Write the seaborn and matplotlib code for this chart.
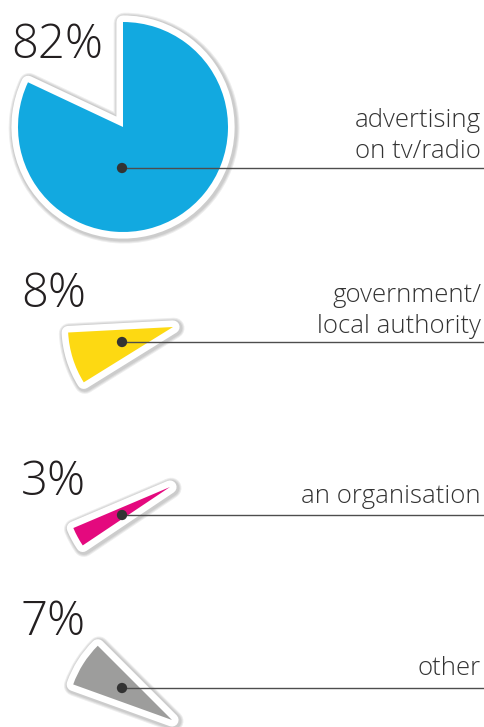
import matplotlib
matplotlib.use("Agg")
import matplotlib.pyplot as plt
import matplotlib.patheffects as pe
import seaborn as sns
import pandas as pd

# data
labels = ["advertising\non tv/radio", "government/\nlocal authority", "an organisation", "other"]
shares = [82, 8, 3, 7]
colors = ["#12a9e0", "#fdd912", "#e4097e", "#9d9d9c"]

# layout (pixel space, y pointing up, figure is 485 x 727)
W, H = 485, 727
R = 105
centers = [(123, 600), (173, 400), (170, 240), (172, 7)]
start_angles = [154.8, 183, 203, 135]
pct_pos = [(11, 669), (21, 420), (21, 232), (21, 92)]
line_y = [559, 385, 212, 39]
text_base = [600, 425, 224, 52]
dot_x = 122

sns.set_theme(style="white")
plt.rcParams["font.family"] = ["Open Sans", "DejaVu Sans"]

fig = plt.figure(figsize=(W / 100, H / 100), dpi=100)
ax = fig.add_axes([0, 0, 1, 1])

shadow = [pe.Stroke(linewidth=w, foreground="black", alpha=0.07,
                    joinstyle="round", offset=(0.8, -0.8)) for w in (15, 13.5, 12)]
outline = [pe.Stroke(linewidth=9.5, foreground="white", joinstyle="round"), pe.Normal()]

for val, col, c, a0 in zip(shares, colors, centers, start_angles):
    wedges, _ = ax.pie([val, 100 - val], colors=[col, "none"], startangle=a0,
                       counterclock=True, center=c, radius=R,
                       wedgeprops=dict(linewidth=0))
    wedges[1].set_visible(False)
    wedges[0].set_path_effects(shadow + outline)

# leader lines and dots
ax.hlines(line_y, dot_x, W, color="#4d4d4d", linewidth=1.0, zorder=5)
dots = pd.DataFrame({"x": [dot_x] * len(line_y), "y": line_y})
sns.scatterplot(data=dots, x="x", y="y", ax=ax, s=55, color="#333333",
                edgecolor="none", zorder=6, legend=False)

# percentages
for val, (px, py) in zip(shares, pct_pos):
    ax.text(px, py, f"{val}%", fontsize=34, fontweight="light", color="#231f20",
            ha="left", va="baseline")

# category labels
for lab, yb in zip(labels, text_base):
    for i, part in enumerate(lab.split("\n")):
        ax.text(481, yb - i * 31, part, fontsize=18.5, fontweight="light",
                color="#333333", ha="right", va="baseline")

ax.set_xlim(0, W)
ax.set_ylim(0, H)
ax.set_aspect("equal")
ax.axis("off")
fig.savefig("out.png", dpi=100)
